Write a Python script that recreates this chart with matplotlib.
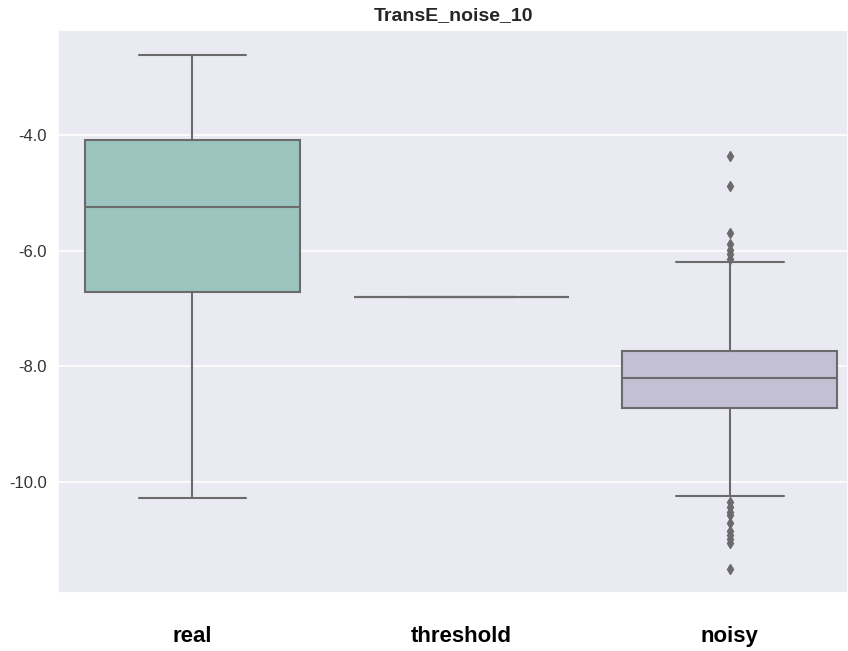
import matplotlib
matplotlib.use("Agg")
import matplotlib.pyplot as plt
import seaborn as sns

# Score distributions per group (box summary statistics)
categories = ["real", "threshold", "noisy"]
q1 = [-6.72, -6.80, -8.72]
median = [-5.25, -6.80, -8.20]
q3 = [-4.09, -6.80, -7.74]
whisker_low = [-10.28, -6.80, -10.25]
whisker_high = [-2.62, -6.80, -6.20]
fliers = [
    [],
    [],
    [-4.36, -4.88, -5.70, -5.89, -5.98, -6.06, -6.14,
     -10.34, -10.43, -10.52, -10.57, -10.71, -10.85, -10.92, -10.99, -11.06, -11.51],
]
yticks = [-4.0, -6.0, -8.0, -10.0]

sns.set_theme(style="darkgrid")
plt.rcParams["font.family"] = ["Liberation Sans", "DejaVu Sans"]

palette = sns.color_palette("Set3", 3)
colors = [sns.desaturate(c, 0.6) for c in palette]
line_gray = "#6b6b6b"

fig = plt.figure(figsize=(8.48, 6.51), dpi=100)
ax = fig.add_axes([58 / 848, 1 - 593 / 651, 1 - 58 / 848, (593 - 30) / 651])

stats = []
for i, name in enumerate(categories):
    stats.append(dict(label=name, q1=q1[i], med=median[i], q3=q3[i],
                      whislo=whisker_low[i], whishi=whisker_high[i],
                      fliers=fliers[i]))

bp = ax.bxp(stats, positions=range(len(categories)), widths=0.8,
            patch_artist=True, showfliers=True,
            boxprops=dict(edgecolor=line_gray, linewidth=1.5),
            medianprops=dict(color=line_gray, linewidth=1.5),
            whiskerprops=dict(color=line_gray, linewidth=1.5),
            capprops=dict(color=line_gray, linewidth=1.5),
            flierprops=dict(marker="d", markerfacecolor=line_gray,
                            markeredgecolor=line_gray, markersize=5))
for patch, c in zip(bp["boxes"], colors):
    patch.set_facecolor(c)
for cap in bp["caps"]:
    x0, x1 = cap.get_xdata()
    mid = (x0 + x1) / 2
    cap.set_xdata([mid - 0.2, mid + 0.2])

ax.set_xlim(-0.5, 2.44)
ax.set_ylim(-11.92, -2.18)
ax.set_yticks(yticks)
ax.set_yticklabels([f"{v:.1f}" for v in yticks], fontsize=12, color="#333333")
ax.set_xticks(range(len(categories)))
ax.set_xticklabels(categories, fontsize=16, fontweight="bold", color="black")
ax.tick_params(axis="x", pad=24, length=0)
ax.tick_params(axis="y", pad=8, length=0)
ax.grid(False, axis="x")
ax.grid(True, axis="y", color="white", linewidth=1.2)
ax.set_title("TransE_noise_10", fontsize=14, fontweight="bold", color="#262626", pad=7)

fig.savefig("out.png", dpi=100)
